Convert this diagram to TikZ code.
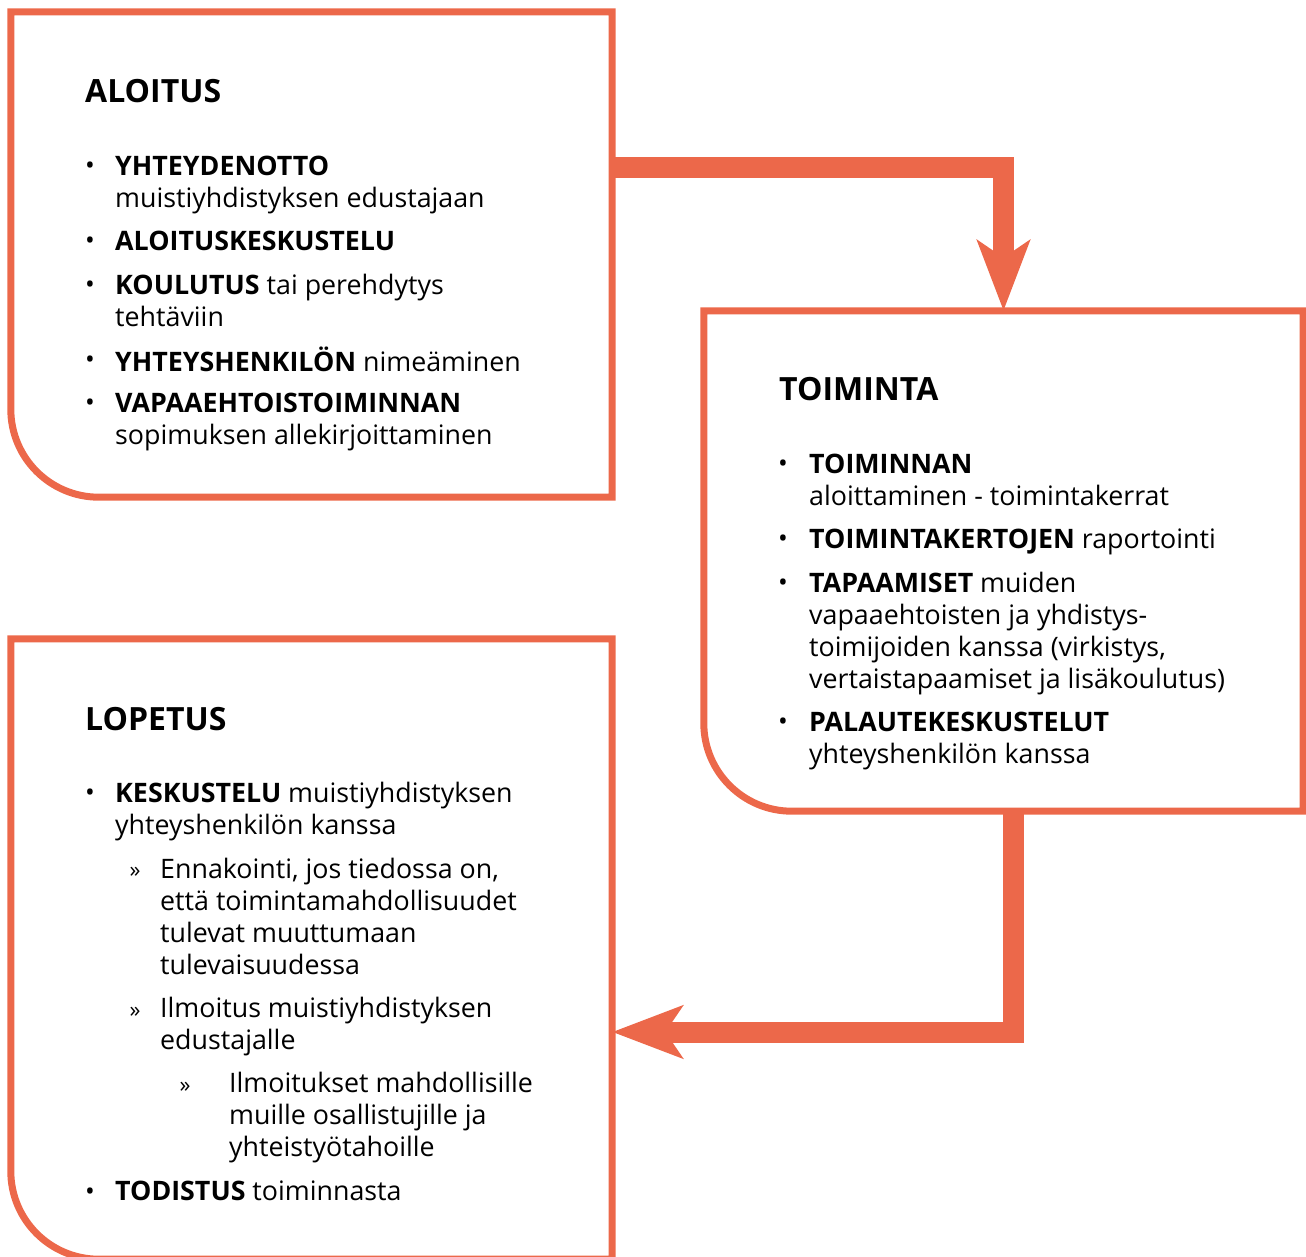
\documentclass[tikz,border=0pt]{standalone}
\usepackage{fontspec}
\setmainfont{Open Sans}[Ligatures=NoCommon]
\usepackage{tikz}
\usetikzlibrary{arrows.meta}
\definecolor{flowred}{RGB}{236,104,74}
\tikzset{stagebox/.style={draw=none, inner sep=0pt, rectangle},
  boxline/.style={draw=flowred, line width=7pt},
  flow/.style={draw=flowred, line width=21pt, -{Stealth[length=70pt, width=52pt, inset=17pt]}},
  heading/.style={anchor=base west, inner sep=0pt, font=\fontsize{32}{36}\selectfont\bfseries},
  entry/.style={anchor=north west, inner sep=0pt, align=left, font=\fontsize{26.8}{32}\selectfont},
  dot/.style={anchor=base, inner sep=0pt, font=\fontsize{26}{28}\selectfont}}

\begin{document}
\begin{tikzpicture}[x=1pt, y=1pt]
\useasboundingbox (0,0) rectangle (1306,1256);

% the three stages
\node[stagebox, minimum width=601pt, minimum height=485pt] (aloitus) at (311.5,1001.5) {};
\node[stagebox, minimum width=599pt, minimum height=500pt] (toiminta) at (1003.5,695) {};
\node[stagebox, minimum width=601pt, minimum height=620pt] (lopetus) at (311.5,307) {};
\foreach \b in {aloitus, toiminta, lopetus}
  \draw[boxline] ([xshift=88pt]\b.south west) -- (\b.south east) -- (\b.north east)
    -- (\b.north west) -- ([yshift=88pt]\b.south west)
    arc[start angle=180, end angle=270, radius=88pt] -- cycle;

% arrows between stages
\draw[flow] (aloitus.east |- 0,1088) -| (toiminta.north);
\draw[flow] (toiminta.south -| 1013,0) |- (lopetus.east |- 0,224);

% ALOITUS
\node[heading] (h1) at (85,1153) {ALOITUS};
\node[entry] (a1) at (115,1103) {\strut\textbf{YHTEYDENOTTO}\\muistiyhdistyksen edustajaan};
\node[entry] (a2) at (115,1028) {\strut\textbf{ALOITUSKESKUSTELU}};
\node[entry] (a3) at (115,984) {\strut\textbf{KOULUTUS} tai perehdytys\\tehtäviin};
\node[entry] (a4) at (115,909) {\strut\textbf{YHTEYSHENKILÖN} nimeäminen};
\node[entry] (a5) at (115,866) {\strut\textbf{VAPAAEHTOISTOIMINNAN}\\sopimuksen allekirjoittaminen};
\foreach \y in {1081,1006,962,887,844}
  \node[dot] at (90,\y) {•};

% TOIMINTA
\node[heading] (h2) at (779,855) {TOIMINTA};
\node[entry] (t1) at (809,805) {\strut\textbf{TOIMINNAN}\\aloittaminen - toimintakerrat};
\node[entry] (t2) at (809,730) {\strut\textbf{TOIMINTAKERTOJEN} raportointi};
\node[entry] (t3) at (809,686) {\strut\textbf{TAPAAMISET} muiden\\vapaaehtoisten ja yhdistys-\\toimijoiden kanssa (virkistys,\\vertaistapaamiset ja lisäkoulutus)};
\node[entry] (t4) at (809,547) {\strut\textbf{PALAUTEKESKUSTELUT}\\yhteyshenkilön kanssa};
\foreach \y in {783,708,664,525}
  \node[dot] at (783,\y) {•};

% LOPETUS
\node[heading] (h3) at (85,525) {LOPETUS};
\node[entry] (l1) at (115,476) {\strut\textbf{KESKUSTELU} muistiyhdistyksen\\yhteyshenkilön kanssa};
\node[entry] (l2) at (160,400) {\strut Ennakointi, jos tiedossa on,\\että toimintamahdollisuudet\\tulevat muuttumaan\\tulevaisuudessa};
\node[entry] (l3) at (160,261) {\strut Ilmoitus muistiyhdistyksen\\edustajalle};
\node[entry] (l4) at (229,186) {\strut Ilmoitukset mahdollisille\\muille osallistujille ja\\yhteistyötahoille};
\node[entry] (l5) at (115,78) {\strut\textbf{TODISTUS} toiminnasta};
\foreach \y in {454,56}
  \node[dot] at (90,\y) {•};
\node[dot, font=\fontsize{22}{24}\selectfont] at (135,378) {»};
\node[dot, font=\fontsize{22}{24}\selectfont] at (135,239) {»};
\node[dot, font=\fontsize{22}{24}\selectfont] at (185,164) {»};
\end{tikzpicture}
\end{document}
